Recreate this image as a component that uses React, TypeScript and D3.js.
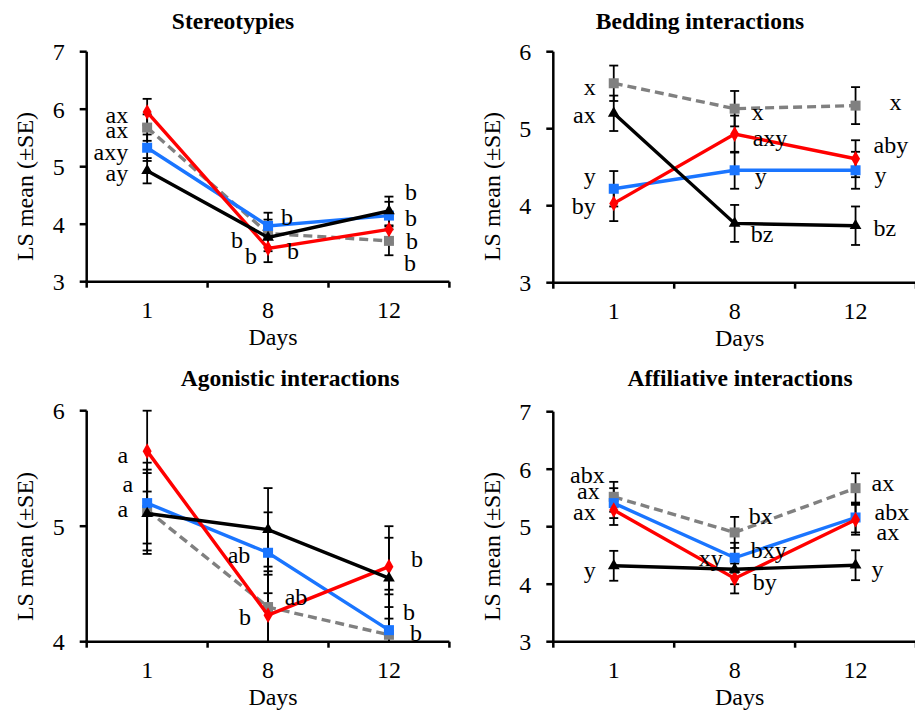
import React from 'react';
import * as d3 from 'd3';

const days = ['1', '8', '12'];
const yLabel = 'LS mean (\u00B1SE)';
const xLabel = 'Days';

// Stereotypies
const stRed = [5.95, 3.58, 3.91];
const stRedSE = [0.23, 0.24, 0.24];
const stGrey = [5.68, 3.84, 3.71];
const stGreySE = [0.23, 0.24, 0.25];
const stBlue = [5.33, 3.97, 4.15];
const stBlueSE = [0.23, 0.23, 0.24];
const stBlack = [4.93, 3.77, 4.23];
const stBlackSE = [0.22, 0.24, 0.25];

// Bedding interactions
const beRed = [4.03, 4.93, 4.61];
const beRedSE = [0.23, 0.24, 0.24];
const beGrey = [5.59, 5.26, 5.30];
const beGreySE = [0.23, 0.23, 0.24];
const beBlue = [4.22, 4.46, 4.46];
const beBlueSE = [0.23, 0.24, 0.24];
const beBlack = [5.20, 3.77, 3.74];
const beBlackSE = [0.23, 0.24, 0.25];

// Agonistic interactions
const agRed = [5.65, 4.23, 4.65];
const agRedSE = [0.35, 0.35, 0.35];
const agGrey = [5.14, 4.30, 4.06];
const agGreySE = [0.35, 0.35, 0.35];
const agBlue = [5.20, 4.77, 4.10];
const agBlueSE = [0.35, 0.35, 0.35];
const agBlack = [5.11, 4.97, 4.55];
const agBlackSE = [0.35, 0.36, 0.35];

// Affiliative interactions
const afRed = [5.29, 4.10, 5.12];
const afRedSE = [0.26, 0.26, 0.26];
const afGrey = [5.52, 4.90, 5.67];
const afGreySE = [0.26, 0.27, 0.26];
const afBlue = [5.41, 4.46, 5.16];
const afBlueSE = [0.26, 0.26, 0.26];
const afBlack = [4.32, 4.26, 4.33];
const afBlackSE = [0.26, 0.26, 0.26];

// significance letters: [dayIndex, value, text, dx, anchor]
type Lab = [number, number, string, number, string];
const stLabels: Lab[] = [
  [0, 5.90, 'ax', -19, 'end'], [0, 5.64, 'ax', -19, 'end'], [0, 5.26, 'axy', -19, 'end'], [0, 4.90, 'ay', -19, 'end'],
  [1, 4.14, 'b', 19, 'middle'], [1, 3.74, 'b', -31, 'middle'], [1, 3.46, 'b', -17, 'middle'], [1, 3.54, 'b', 25, 'middle'],
  [2, 4.57, 'b', 22, 'middle'], [2, 4.12, 'b', 22, 'middle'], [2, 3.71, 'b', 23, 'middle'], [2, 3.34, 'b', 21, 'middle'],
];
const beLabels: Lab[] = [
  [0, 5.55, 'x', -18, 'end'], [0, 5.18, 'ax', -18, 'end'], [0, 4.39, 'y', -18, 'end'], [0, 4.0, 'by', -18, 'end'],
  [1, 5.22, 'x', 17, 'start'], [1, 4.89, 'axy', 18, 'start'], [1, 4.39, 'y', 20, 'start'], [1, 3.64, 'bz', 16, 'start'],
  [2, 5.35, 'x', 34, 'start'], [2, 4.80, 'aby', 18, 'start'], [2, 4.40, 'y', 19, 'start'], [2, 3.71, 'bz', 18, 'start'],
];
const agLabels: Lab[] = [
  [0, 5.62, 'a', -19, 'end'], [0, 5.37, 'a', -14, 'end'], [0, 5.15, 'a', -19, 'end'],
  [1, 4.75, 'ab', -29, 'middle'], [1, 4.22, 'b', -23, 'middle'], [1, 4.39, 'ab', 28, 'middle'],
  [2, 4.72, 'b', 28, 'middle'], [2, 4.26, 'b', 20, 'middle'], [2, 4.08, 'b', 27, 'middle'],
];
const afLabels: Lab[] = [
  [0, 5.91, 'abx', -9, 'end'], [0, 5.63, 'ax', -14, 'end'], [0, 5.26, 'ax', -18, 'end'], [0, 4.26, 'y', -18, 'end'],
  [1, 5.19, 'bx', 14, 'start'], [1, 4.47, 'xy', -24, 'middle'], [1, 4.61, 'bxy', 16, 'start'], [1, 4.04, 'by', 18, 'start'],
  [2, 5.77, 'ax', 16, 'start'], [2, 5.26, 'abx', 19, 'start'], [2, 4.91, 'ax', 21, 'start'], [2, 4.28, 'y', 16, 'start'],
];

const RED = '#FF0000';
const GREY = '#808080';
const BLUE = '#1A75FF';
const BLACK = '#000000';
const FONT = "'Times New Roman', 'Liberation Serif', Times, serif";

type Series = { vals: number[]; se: number[]; color: string; dash?: string; marker: string };

type PanelCfg = {
  title: string; titleX: number; titleY: number;
  x0: number; yTop: number; yBot: number; domain: [number, number];
  series: Series[]; labels: Lab[]; yLabelY: number; yLabelX: number;
};

const BAND = 120.9;

const panels: PanelCfg[] = [
  {
    title: 'Stereotypies', titleX: 233, titleY: 29, x0: 86.7, yTop: 51.7, yBot: 281.7, domain: [3, 7],
    series: [
      { vals: stGrey, se: stGreySE, color: GREY, dash: '9,5', marker: 'square' },
      { vals: stBlue, se: stBlueSE, color: BLUE, marker: 'square' },
      { vals: stRed, se: stRedSE, color: RED, marker: 'diamond' },
      { vals: stBlack, se: stBlackSE, color: BLACK, marker: 'triangle' },
    ], labels: stLabels, yLabelY: 186.5, yLabelX: 33,
  },
  {
    title: 'Bedding interactions', titleX: 700, titleY: 28.5, x0: 553.3, yTop: 51.7, yBot: 282.7, domain: [3, 6],
    series: [
      { vals: beGrey, se: beGreySE, color: GREY, dash: '9,5', marker: 'square' },
      { vals: beBlue, se: beBlueSE, color: BLUE, marker: 'square' },
      { vals: beRed, se: beRedSE, color: RED, marker: 'diamond' },
      { vals: beBlack, se: beBlackSE, color: BLACK, marker: 'triangle' },
    ], labels: beLabels, yLabelY: 186.5, yLabelX: 500,
  },
  {
    title: 'Agonistic interactions', titleX: 290, titleY: 386, x0: 86.7, yTop: 410.7, yBot: 641.7, domain: [4, 6],
    series: [
      { vals: agGrey, se: agGreySE, color: GREY, dash: '9,5', marker: 'square' },
      { vals: agBlue, se: agBlueSE, color: BLUE, marker: 'square' },
      { vals: agRed, se: agRedSE, color: RED, marker: 'diamond' },
      { vals: agBlack, se: agBlackSE, color: BLACK, marker: 'triangle' },
    ], labels: agLabels, yLabelY: 546.5, yLabelX: 33,
  },
  {
    title: 'Affiliative interactions', titleX: 740, titleY: 386, x0: 553.3, yTop: 411.7, yBot: 641.7, domain: [3, 7],
    series: [
      { vals: afGrey, se: afGreySE, color: GREY, dash: '9,5', marker: 'square' },
      { vals: afBlue, se: afBlueSE, color: BLUE, marker: 'square' },
      { vals: afRed, se: afRedSE, color: RED, marker: 'diamond' },
      { vals: afBlack, se: afBlackSE, color: BLACK, marker: 'triangle' },
    ], labels: afLabels, yLabelY: 546.5, yLabelX: 500,
  },
];

function Marker({ type, x, y, color }: { type: string; x: number; y: number; color: string }) {
  if (type === 'square') return <rect x={x - 5} y={y - 5} width={10} height={10} fill={color} />;
  if (type === 'diamond') {
    const sym = d3.symbol(d3.symbolDiamond, 70)();
    return <path d={sym || ''} transform={`translate(${x},${y})`} fill={color} />;
  }
  const tri = d3.symbol(d3.symbolTriangle, 60)();
  return <path d={tri || ''} transform={`translate(${x},${y})`} fill={color} />;
}

const txt = { fontFamily: FONT };

function Panel({ cfg }: { cfg: PanelCfg }) {
  const x = d3.scaleBand<string>().domain(days).range([cfg.x0, cfg.x0 + BAND * 3]).padding(0);
  const y = d3.scaleLinear().domain(cfg.domain).range([cfg.yBot, cfg.yTop]);
  const cx = (i: number) => (x(days[i]) as number) + x.bandwidth() / 2;
  const yTicks = d3.range(cfg.domain[0], cfg.domain[1] + 1);
  const line = d3.line<number>().x((_, i) => cx(i)).y((d) => y(d));
  const xRange = x.range();
  const bounds = [...days.map((d) => x(d) as number), xRange[1]];
  const clampV = (v: number) => Math.max(cfg.domain[0], Math.min(cfg.domain[1], v));
  return (
    <g>
      <text x={cfg.titleX} y={cfg.titleY} textAnchor="middle" style={txt} fontWeight="bold" fontSize={23.5}>{cfg.title}</text>
      {/* error bars */}
      {cfg.series.map((s, si) => (
        <g key={'e' + si} stroke="#000" strokeWidth={1.8}>
          {s.vals.map((v, i) => {
            const hi = v + s.se[i];
            const lo = v - s.se[i];
            const yh = y(clampV(hi));
            const yl = y(clampV(lo));
            return (
              <g key={i}>
                <line x1={cx(i)} x2={cx(i)} y1={yh} y2={yl} />
                {hi <= cfg.domain[1] && <line x1={cx(i) - 4.5} x2={cx(i) + 4.5} y1={yh} y2={yh} />}
                {lo >= cfg.domain[0] && <line x1={cx(i) - 4.5} x2={cx(i) + 4.5} y1={yl} y2={yl} />}
              </g>
            );
          })}
        </g>
      ))}
      {/* lines */}
      {cfg.series.map((s, si) => (
        <g key={'l' + si}>
          <path d={line(s.vals) || ''} fill="none" stroke={s.color} strokeWidth={3.4} strokeDasharray={s.dash} />
          {s.vals.map((v, i) => (
            <Marker key={i} type={s.marker} x={cx(i)} y={y(v)} color={s.color} />
          ))}
        </g>
      ))}
      {/* y axis */}
      <line x1={cfg.x0} x2={cfg.x0} y1={cfg.yTop} y2={cfg.yBot} stroke="#000" strokeWidth={2.5} />
      {yTicks.map((t) => (
        <g key={t}>
          <line x1={cfg.x0 - 7} x2={cfg.x0} y1={y(t)} y2={y(t)} stroke="#000" strokeWidth={2.5} />
          <text x={cfg.x0 - 22} y={y(t)} dy="0.35em" textAnchor="end" style={txt} fontSize={24}>{t}</text>
        </g>
      ))}
      {/* x axis */}
      <line x1={xRange[0] - 1.25} x2={xRange[1]} y1={cfg.yBot} y2={cfg.yBot} stroke="#000" strokeWidth={2.5} />
      {bounds.map((b, i) => (
        <line key={i} x1={b} x2={b} y1={cfg.yBot} y2={cfg.yBot + 6} stroke="#000" strokeWidth={2.5} />
      ))}
      {days.map((d, i) => (
        <text key={d} x={cx(i)} y={cfg.yBot + 36} textAnchor="middle" style={txt} fontSize={24}>{d}</text>
      ))}
      <text x={(xRange[0] + xRange[1]) / 2 + 5} y={cfg.yBot + 63} textAnchor="middle" style={txt} fontSize={24}>{xLabel}</text>
      <text transform={`translate(${cfg.yLabelX},${cfg.yLabelY}) rotate(-90)`} textAnchor="middle" style={txt} fontSize={24}>{yLabel}</text>
      {/* letters */}
      {cfg.labels.map((l, i) => (
        <text key={'t' + i} x={cx(l[0]) + l[3]} y={y(l[1])} dy="0.35em" textAnchor={l[4]} style={txt} fontSize={24}>{l[2]}</text>
      ))}
    </g>
  );
}

export default function App() {
  return (
    <svg width={915} height={711} style={{ position: 'absolute', left: 0, top: 0, background: '#fff' }}>
      <rect width={915} height={711} fill="#fff" />
      {panels.map((p, i) => <Panel key={i} cfg={p} />)}
    </svg>
  );
}
